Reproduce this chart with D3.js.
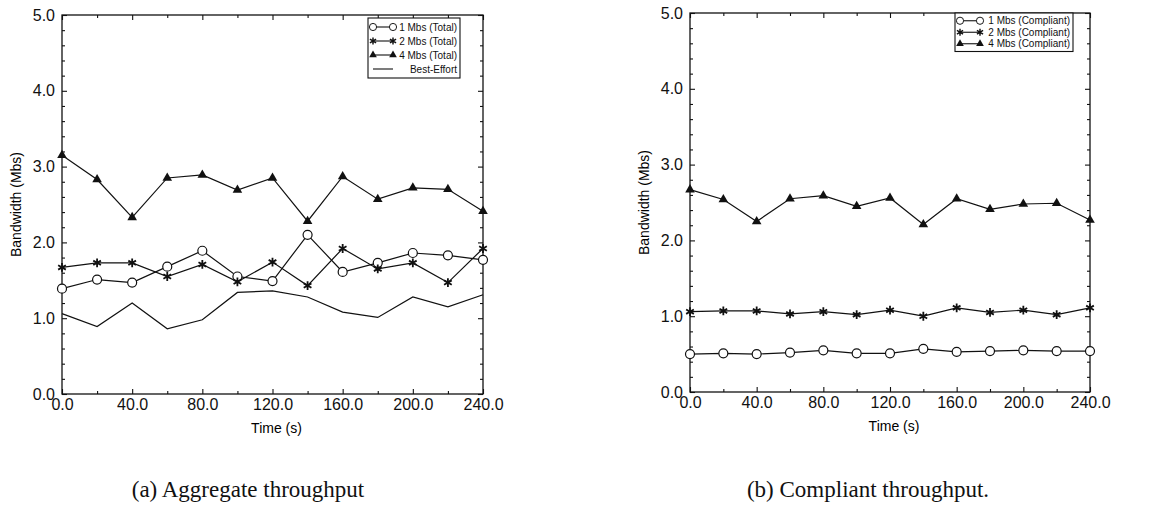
<!DOCTYPE html>
<html>
<head>
<meta charset="utf-8">
<script src="https://cdn.jsdelivr.net/npm/d3@7"></script>
<style>
	body { margin: 0; background: #fff; }
	svg { display: block; font-family: "Liberation Sans", Arial, sans-serif; }
	.tick text { fill: #111; }
	.tick line { stroke: #111; stroke-width: 1.1; }
	.domain { display: none; }
	.series { fill: none; stroke: #111; stroke-width: 1.2; }
	.legend text { font-size: 10px; fill: #111; }
	.caption { font-family: "Liberation Serif", "DejaVu Serif", serif; font-size: 23px; fill: #111; }
</style>
</head>
<body>
<svg width="1176" height="509"></svg>
<script>
// time axis (s)
const times = [0, 20, 40, 60, 80, 100, 120, 140, 160, 180, 200, 220, 240]

// (a) aggregate throughput, Mbs
const total1 = [1.39, 1.51, 1.47, 1.68, 1.89, 1.55, 1.49, 2.1, 1.61, 1.73, 1.86, 1.83, 1.77]
const total2 = [1.67, 1.73, 1.73, 1.55, 1.71, 1.48, 1.74, 1.43, 1.92, 1.65, 1.73, 1.47, 1.92]
const total4 = [3.15, 2.83, 2.33, 2.85, 2.89, 2.69, 2.85, 2.28, 2.87, 2.57, 2.72, 2.7, 2.41]
const bestEffort = [1.06, 0.89, 1.2, 0.86, 0.98, 1.34, 1.36, 1.28, 1.08, 1.01, 1.28, 1.15, 1.31]

// (b) compliant throughput, Mbs
const comp1 = [0.5, 0.51, 0.5, 0.52, 0.55, 0.51, 0.51, 0.57, 0.53, 0.54, 0.55, 0.54, 0.54]
const comp2 = [1.06, 1.07, 1.07, 1.03, 1.06, 1.02, 1.08, 1.0, 1.11, 1.05, 1.08, 1.02, 1.11]
const comp4 = [2.67, 2.54, 2.25, 2.55, 2.59, 2.45, 2.56, 2.21, 2.55, 2.41, 2.48, 2.49, 2.27]

const yMajor = [0, 1, 2, 3, 4, 5]
const xMajor = [0, 40, 80, 120, 160, 200, 240]
const xMinor = [20, 60, 100, 140, 180, 220]

const svg = d3.select("svg")
const fmt = d3.format(".1f")

// marker shapes
const markers = {
	circle: (g) => g.append("circle").attr("r", 4.5).attr("fill", "#fff").attr("stroke", "#111").attr("stroke-width", 1.2),
	star: (g) => g.append("path").attr("d", d3.symbol(d3.symbolAsterisk, 55)()).attr("fill", "none").attr("stroke", "#111").attr("stroke-width", 1.8),
	triangle: (g) => g.append("path").attr("d", d3.symbol(d3.symbolTriangle, 40)()).attr("fill", "#111"),
	none: (g) => g
}

function panel(opt) {
	const x = d3.scaleLinear().domain([0, 240]).range([opt.left, opt.right])
	const y = d3.scaleLinear().domain([0, 5]).range([opt.bottom, opt.top])
	const yMinor = d3.range(0, 5.01, 0.2).map((v) => +v.toFixed(1)).filter((v) => !yMajor.includes(v))

	const g = svg.append("g")

	// frame
	g.append("rect")
		.attr("x", opt.left)
		.attr("y", opt.top)
		.attr("width", opt.right - opt.left)
		.attr("height", opt.bottom - opt.top)
		.attr("fill", "none")
		.attr("stroke", "#111")
		.attr("stroke-width", 1.3)

	// y axes, ticks point inward
	g.append("g").attr("transform", `translate(${opt.left},0)`)
		.call(d3.axisLeft(y).tickValues(yMajor).tickSize(-5).tickPadding(7).tickFormat(fmt))
	g.append("g").attr("transform", `translate(${opt.left},0)`)
		.call(d3.axisLeft(y).tickValues(yMinor).tickSize(-3).tickFormat(""))
	g.append("g").attr("transform", `translate(${opt.right},0)`)
		.call(d3.axisRight(y).tickValues(yMajor).tickSize(-5).tickFormat(""))
	g.append("g").attr("transform", `translate(${opt.right},0)`)
		.call(d3.axisRight(y).tickValues(yMinor).tickSize(-3).tickFormat(""))

	// x axes
	g.append("g").attr("transform", `translate(0,${opt.bottom})`)
		.call(d3.axisBottom(x).tickValues(xMajor).tickSize(-5).tickPadding(5).tickFormat(fmt))
	g.append("g").attr("transform", `translate(0,${opt.bottom})`)
		.call(d3.axisBottom(x).tickValues(xMinor).tickSize(-3).tickFormat(""))
	g.append("g").attr("transform", `translate(0,${opt.top})`)
		.call(d3.axisTop(x).tickValues(xMajor).tickSize(-5).tickFormat(""))
	g.append("g").attr("transform", `translate(0,${opt.top})`)
		.call(d3.axisTop(x).tickValues(xMinor).tickSize(-3).tickFormat(""))

	g.selectAll(".tick text").style("font-size", "16px")

	// axis titles
	g.append("text")
		.attr("x", (opt.left + opt.right) / 2 + 4)
		.attr("y", opt.bottom + 39)
		.attr("text-anchor", "middle")
		.style("font-size", "14px")
		.text("Time (s)")
	g.append("text")
		.attr("transform", `translate(${opt.left - 41},${(opt.top + opt.bottom) / 2}) rotate(-90)`)
		.attr("text-anchor", "middle")
		.style("font-size", "14px")
		.text("Bandwidth (Mbs)")

	// series
	const line = d3.line().x((d, i) => x(times[i])).y((d) => y(d))
	opt.series.forEach((s) => {
		g.append("path").datum(s.values).attr("class", "series").attr("d", line)
		const pts = g.selectAll(null)
			.data(s.values)
			.enter()
			.append("g")
			.attr("transform", (d, i) => `translate(${x(times[i])},${y(d)})`)
		markers[s.marker](pts)
	})

	// legend
	const lg = g.append("g").attr("class", "legend")
	lg.append("rect")
		.attr("x", opt.legend.x)
		.attr("y", opt.legend.y)
		.attr("width", opt.legend.w)
		.attr("height", opt.legend.rowH * opt.series.length + 4)
		.attr("fill", "#fff")
		.attr("stroke", "#111")
		.attr("stroke-width", 1.1)
	opt.series.forEach((s, i) => {
		const cy = opt.legend.y + 2 + opt.legend.rowH * (i + 0.5)
		const x1 = opt.legend.x + 5
		const x2 = opt.legend.x + opt.legend.sym
		lg.append("line").attr("x1", x1).attr("x2", x2).attr("y1", cy).attr("y2", cy)
			.attr("stroke", "#111").attr("stroke-width", 1.1)
		;[x1, x2].forEach((mx) => {
			const m = lg.append("g").attr("transform", `translate(${mx},${cy}) scale(0.8)`)
			markers[s.marker](m)
		})
		lg.append("text")
			.attr("x", opt.legend.x + opt.legend.w - 3)
			.attr("y", cy)
			.attr("dy", "0.35em")
			.attr("text-anchor", "end")
			.text(s.name)
	})

	// caption
	svg.append("text")
		.attr("class", "caption")
		.attr("x", opt.captionX)
		.attr("y", 497)
		.attr("text-anchor", "middle")
		.text(opt.caption)
}

panel({
	left: 62, right: 483, top: 15, bottom: 394,
	series: [
		{ name: "1 Mbs (Total)", values: total1, marker: "circle" },
		{ name: "2 Mbs (Total)", values: total2, marker: "star" },
		{ name: "4 Mbs (Total)", values: total4, marker: "triangle" },
		{ name: "Best-Effort", values: bestEffort, marker: "none" }
	],
	legend: { x: 368, y: 18, w: 92, rowH: 14, sym: 25 },
	caption: "(a) Aggregate throughput",
	captionX: 248
})

panel({
	left: 690, right: 1090, top: 13, bottom: 392,
	series: [
		{ name: "1 Mbs (Compliant)", values: comp1, marker: "circle" },
		{ name: "2 Mbs (Compliant)", values: comp2, marker: "star" },
		{ name: "4 Mbs (Compliant)", values: comp4, marker: "triangle" }
	],
	legend: { x: 955, y: 13, w: 118, rowH: 11.5, sym: 25 },
	caption: "(b) Compliant throughput.",
	captionX: 868
})
</script>
</body>
</html>
